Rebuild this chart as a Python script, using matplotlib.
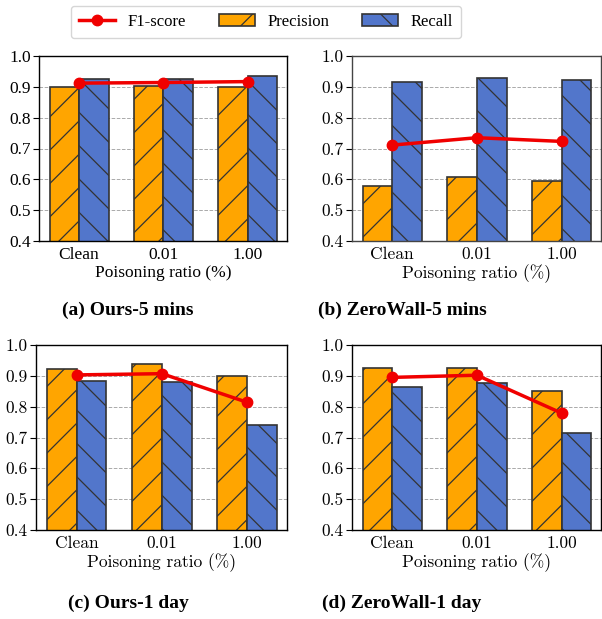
import numpy as np
import matplotlib.pyplot as plt
from matplotlib.lines import Line2D
from matplotlib.patches import Patch

DPI = 100

rotulos_x = ['Clean', '0.01', '1.00']
titulos = ['(a) Ours-5 mins', '(b) ZeroWall-5 mins', '(c) Ours-1 day', '(d) ZeroWall-1 day']

ours_5min_precision = [0.900, 0.904, 0.900]
ours_5min_recall = [0.926, 0.924, 0.936]
ours_5min_f1 = [0.912, 0.914, 0.917]

zerowall_5min_precision = [0.580, 0.609, 0.593]
zerowall_5min_recall = [0.917, 0.930, 0.922]
zerowall_5min_f1 = [0.711, 0.735, 0.723]

ours_1day_precision = [0.921, 0.937, 0.899]
ours_1day_recall = [0.884, 0.880, 0.742]
ours_1day_f1 = [0.903, 0.907, 0.814]

zerowall_1day_precision = [0.924, 0.924, 0.852]
zerowall_1day_recall = [0.865, 0.878, 0.716]
zerowall_1day_f1 = [0.895, 0.902, 0.779]

yticks = [0.4, 0.5, 0.6, 0.7, 0.8, 0.9, 1.0]

COR_PREC = '#FFA500'
COR_REC = '#5276CB'
COR_F1 = '#F00000'

plt.rcParams['hatch.linewidth'] = 0.9

W, H = 602, 619
fig = plt.figure(figsize=(W / DPI, H / DPI), dpi=DPI)


def ret(x0, x1, y0, y1):
    return [x0 / W, 1 - y1 / H, (x1 - x0) / W, (y1 - y0) / H]


paineis = [
    (ret(39, 287, 56, 241), ours_5min_precision, ours_5min_recall, ours_5min_f1, 'Liberation Serif', 'black'),
    (ret(352, 601, 56, 241), zerowall_5min_precision, zerowall_5min_recall, zerowall_5min_f1, 'cmr10', '#444444'),
    (ret(36, 287, 345, 530), ours_1day_precision, ours_1day_recall, ours_1day_f1, 'cmr10', 'black'),
    (ret(352, 601, 345, 530), zerowall_1day_precision, zerowall_1day_recall, zerowall_1day_f1, 'cmr10', 'black'),
]

pos_legenda = [(128, 310), (402, 310), (128, 603), (402, 603)]

x = np.arange(len(rotulos_x))
largura = 0.35

for (rect, prec, rec, f1, fonte, cor_spine), titulo, (cx, cy) in zip(paineis, titulos, pos_legenda):
    ax = fig.add_axes(rect)
    ax.bar(x - largura / 2, prec, largura, color=COR_PREC, edgecolor='#333333',
           linewidth=1.2, hatch='/', zorder=2)
    ax.bar(x + largura / 2, rec, largura, color=COR_REC, edgecolor='#333333',
           linewidth=1.2, hatch='\\', zorder=2)
    ax.plot(x, f1, color=COR_F1, linewidth=2.5, marker='o', markersize=7.5, zorder=3)

    ax.set_xlim(-0.475, 2.465)
    ax.set_ylim(0.4, 1.0)
    ax.set_yticks(yticks)
    ax.set_yticklabels([f'{v:.1f}' for v in yticks], family=[fonte, 'DejaVu Serif'], fontsize=12.5)
    ax.set_xticks(x)
    ax.set_xticklabels(rotulos_x, family=[fonte, 'DejaVu Serif'], fontsize=12.5)
    ax.tick_params(axis='x', length=0, pad=4)
    ax.tick_params(axis='y', length=4, width=0.8, pad=2)
    ax.set_xlabel('Poisoning ratio (%)', family=[fonte, 'DejaVu Serif'], fontsize=12.5, labelpad=2)
    ax.grid(axis='y', linestyle='--', color='#aaaaaa', linewidth=0.7, zorder=0)
    for s in ax.spines.values():
        s.set_linewidth(1.0)
        s.set_color(cor_spine)

    fig.text(cx / W, 1 - cy / H, titulo, ha='center', va='center',
             family='Liberation Serif', weight='bold', fontsize=14)

handles = [
    Line2D([], [], color=COR_F1, linewidth=2.5, marker='o', markersize=7.5),
    Patch(facecolor=COR_PREC, edgecolor='#333333', linewidth=1.2, hatch='/'),
    Patch(facecolor=COR_REC, edgecolor='#333333', linewidth=1.2, hatch='\\'),
]
fig.legend(handles, ['F1-score', 'Precision', 'Recall'], loc='center', ncol=3,
           bbox_to_anchor=(266 / W, 1 - 22 / H), prop={'family': 'Liberation Serif', 'size': 12},
           frameon=True, fancybox=True, edgecolor='#cccccc', handlelength=2.15, columnspacing=2.0,
           handletextpad=0.75, borderpad=0.5)

fig.savefig('out.png', dpi=DPI)
